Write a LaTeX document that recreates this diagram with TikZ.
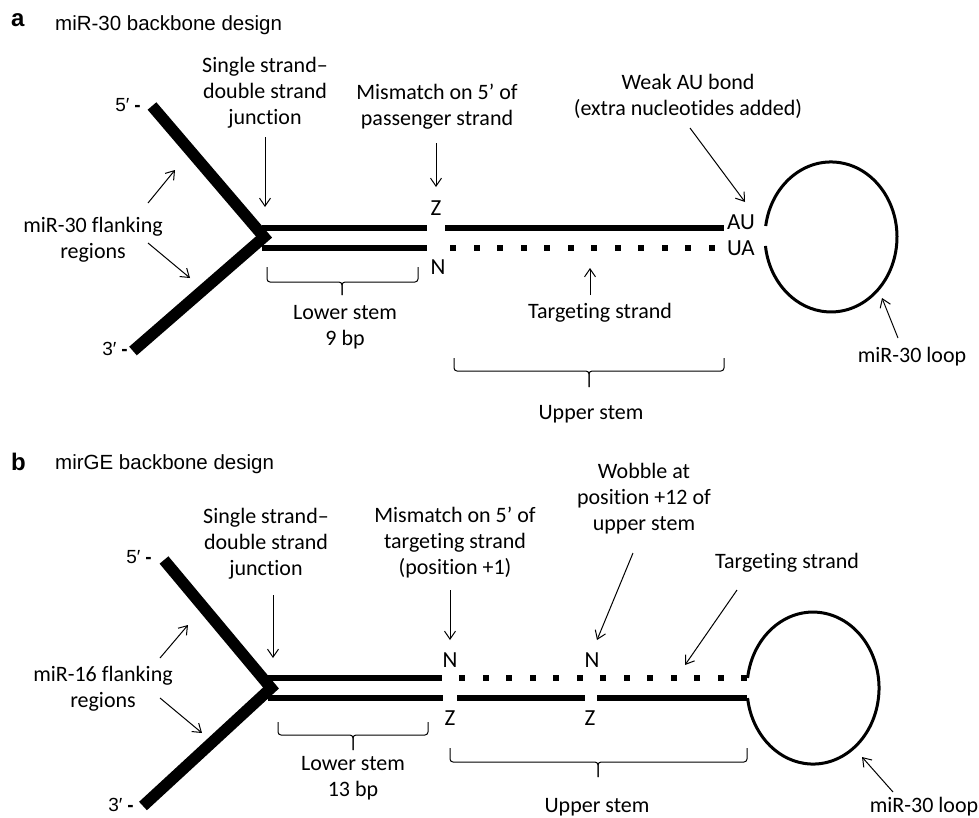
\documentclass[tikz,border=0pt]{standalone}
\usepackage{fontspec}
\setmainfont{Carlito}[Ligatures=NoCommon]
\newfontfamily\arialf{Liberation Sans}
\usetikzlibrary{arrows.meta}
\newcommand\mybrace[6]{%
  \draw[brace] (#1,#4) -- (#1,#5) -- (#3,#5) -- (#3,#6);
  \draw[brace] (#2,#4) -- (#2,#5) -- (#3,#5) -- (#3,#6);}
\newcommand\primedash[1]{#1′\hspace{5pt}\textbf{-}}
\begin{document}
\begin{tikzpicture}[x=1pt,y=-1pt,
  lbl/.style={font=\fontsize{22}{26}\selectfont, align=center, inner sep=0pt},
  base/.style={font=\fontsize{23}{26}\selectfont, inner sep=0pt},
  ttl/.style={font=\arialf\fontsize{20.5}{22}\selectfont, anchor=west, inner sep=0pt},
  panel/.style={font=\arialf\bfseries\fontsize{24}{24}\selectfont, anchor=west, inner sep=0pt},
  primelbl/.style={font=\arialf\fontsize{19}{20}\selectfont, anchor=east, inner sep=0pt},
  arm/.style={line width=11.5pt, line join=miter, miter limit=10},
  strand/.style={line width=6pt},
  loopline/.style={line width=3pt},
  pt/.style={-{Straight Barb[length=8pt,width=11pt]}, line width=1pt},
  brace/.style={line width=1pt, rounded corners=3pt}
]
\useasboundingbox (0,0) rectangle (979,817);

% ================= panel a =================
\node[panel] (pa) at (11,20) {a};
\node[ttl] (ta) at (55,25) {miR-30 backbone design};
\node[primelbl] (a5) at (141,105) {\primedash{5}};
\node[primelbl] (a3) at (128,349) {\primedash{3}};

\draw[arm] (152,106) -- (264,237) -- (133,351);
\draw[strand] (262,228) -- (427,228);
\draw[strand] (445,228) -- (724,228);
\draw[strand] (262,248) -- (427,248);
\foreach \i in {0,...,11} \fill ({453+\i*23.5-3},245) rectangle ++(6,6);
\coordinate (loopa) at (831,237);
\draw[loopline] (765.7,226) arc[start angle=188.4, end angle=533.1, x radius=66, y radius=75];

\node[base] (za) at (436,208) {Z};
\node[base] (na) at (438,267) {N};
\node[base, anchor=west] (aua) at (727,222) {AU};
\node[base, anchor=west] (uaa) at (727,248) {UA};

\node[lbl] (ssja) at (265,93) {Single strand–\\double strand\\junction};
\node[lbl] (fla) at (93,240) {miR-30 flanking\\regions};
\node[lbl] (lsa) at (345,327) {Lower stem\\9 bp};
\node[lbl] (mma) at (437,107) {Mismatch on 5’ of\\passenger strand};
\node[lbl] (tsa) at (600,313) {Targeting strand};
\node[lbl] (usa) at (591,414) {Upper stem};
\node[lbl] (wau) at (688,96) {Weak AU bond\\(extra nucleotides added)};
\node[lbl] (lpa) at (912,357) {miR-30 loop};

\coordinate (a1s) at (265,137); \coordinate (a1e) at (265,207);
\coordinate (a2s) at (148,203); \coordinate (a2e) at (175,170);
\coordinate (a3s) at (148,243); \coordinate (a3e) at (190,278);
\coordinate (a4s) at (436,143); \coordinate (a4e) at (436,187);
\coordinate (a5s) at (590,295); \coordinate (a5e) at (590,268);
\coordinate (a6s) at (690,128); \coordinate (a6e) at (745,202);
\coordinate (a7s) at (898,338); \coordinate (a7e) at (882,298);
\foreach \k in {1,...,7} \draw[pt] (a\k s) -- (a\k e);

\mybrace{267}{418}{342}{267}{282}{295}
\mybrace{454}{724}{589}{358}{371}{387}

% ================= panel b =================
\node[panel] (pb) at (11,462) {b};
\node[ttl] (tb) at (55,464) {mirGE backbone design};
\node[primelbl] (b5) at (152,557) {\primedash{5}};
\node[primelbl] (b3) at (134,805) {\primedash{3}};

\draw[arm] (164,560) -- (271,688) -- (143,806);
\draw[strand] (268,678) -- (442,678);
\foreach \i in {0,...,12} \fill ({462+\i*23.5-3},675) rectangle ++(6,6);
\draw[strand] (268,698) -- (443,698);
\draw[strand] (457,698) -- (585,698);
\draw[strand] (597,698) -- (747,698);
\coordinate (loopb) at (813,688);
\draw[loopline] (747.6,678) arc[start angle=187.6, end angle=532.4, x radius=66, y radius=76];

\node[base] (nb1) at (450,660) {N};
\node[base] (nb2) at (592,660) {N};
\node[base] (zb1) at (450,718) {Z};
\node[base] (zb2) at (590,718) {Z};

\node[lbl] (ssjb) at (266,544) {Single strand–\\double strand\\junction};
\node[lbl] (flb) at (103,689) {miR-16 flanking\\regions};
\node[lbl] (lsb) at (353,778) {Lower stem\\13 bp};
\node[lbl] (usb) at (597,807) {Upper stem};
\node[lbl] (mmb) at (455,543) {Mismatch on 5’ of\\targeting strand\\(position +1)};
\node[lbl] (wob) at (644,499) {Wobble at\\position +12 of\\upper stem};
\node[lbl] (tsb) at (787,563) {Targeting strand};
\node[lbl] (lpb) at (924,807) {miR-30 loop};

\coordinate (b1s) at (273,595); \coordinate (b1e) at (273,658);
\coordinate (b2s) at (160,658); \coordinate (b2e) at (188,625);
\coordinate (b3s) at (160,698); \coordinate (b3e) at (202,733);
\coordinate (b4s) at (450,590); \coordinate (b4e) at (450,640);
\coordinate (b5s) at (633,553); \coordinate (b5e) at (597,640);
\coordinate (b6s) at (737,590); \coordinate (b6e) at (685,665);
\coordinate (b7s) at (893,792); \coordinate (b7e) at (862,757);
\foreach \k in {1,...,7} \draw[pt] (b\k s) -- (b\k e);

\mybrace{278}{428}{353}{722}{735}{750}
\mybrace{450}{747}{598}{748}{762}{777}
\end{tikzpicture}
\end{document}
